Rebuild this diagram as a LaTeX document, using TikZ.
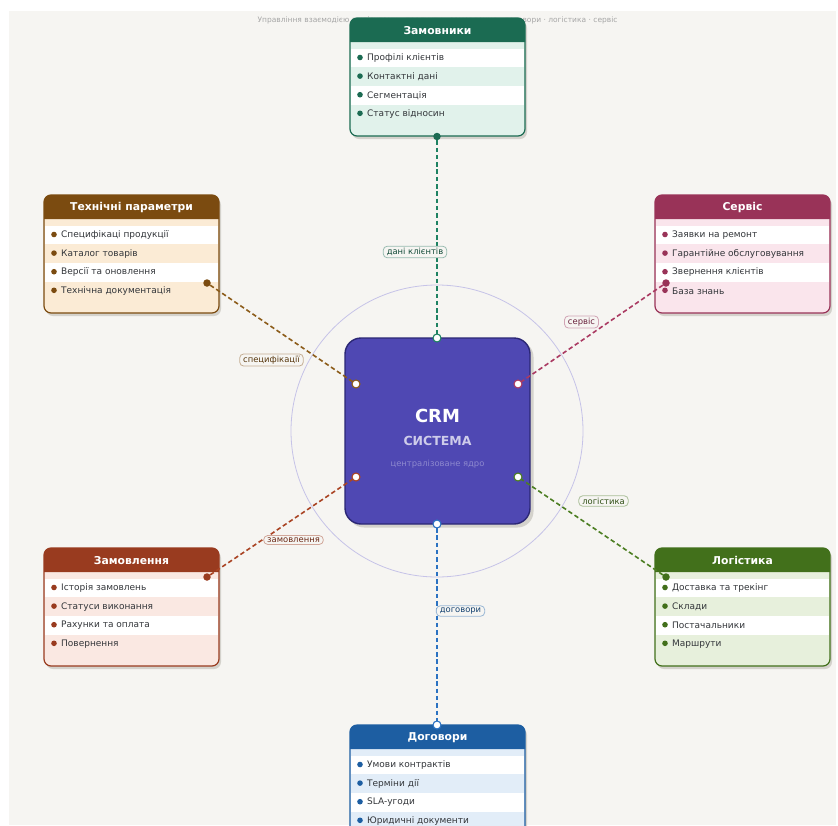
\documentclass[tikz,border=0pt]{standalone}
\usepackage{fontspec}
\setmainfont{DejaVu Sans}
\usetikzlibrary{calc}

% palette
\definecolor{pagebg}{HTML}{F6F5F2}
\definecolor{titlegray}{HTML}{A6A6A6}
\definecolor{itemgray}{HTML}{33363A}
\definecolor{panelshadow}{HTML}{D4D2CC}
\definecolor{zamC}{HTML}{1B6B52}\definecolor{zamT}{HTML}{E1F2EB}\definecolor{zamL}{HTML}{1E8262}
\definecolor{tehC}{HTML}{7B4B10}\definecolor{tehT}{HTML}{FBEBD5}\definecolor{tehL}{HTML}{8C5C1A}
\definecolor{serC}{HTML}{993358}\definecolor{serT}{HTML}{FAE5EC}\definecolor{serL}{HTML}{AA3A62}
\definecolor{ordC}{HTML}{993B1F}\definecolor{ordT}{HTML}{FAE8E2}\definecolor{ordL}{HTML}{AA4424}
\definecolor{logC}{HTML}{42701B}\definecolor{logT}{HTML}{E7F0DC}\definecolor{logL}{HTML}{4C7E22}
\definecolor{dogC}{HTML}{1D5EA2}\definecolor{dogT}{HTML}{E2EDF8}\definecolor{dogL}{HTML}{2B72C2}
\definecolor{coreC}{HTML}{4F48B3}\definecolor{coreD}{HTML}{2B2775}
\definecolor{ringC}{HTML}{C6C3E8}

\tikzset{
  itemtext/.style={font=\fontsize{9}{10.8}\selectfont, text=itemgray, inner sep=0pt, anchor=west},
  paneltitle/.style={font=\bfseries\fontsize{10.8}{12.5}\selectfont, text=white, inner sep=0pt},
  panelbody/.style={rectangle, rounded corners=7pt, minimum width=175pt, minimum height=118pt,
    inner sep=0pt, outer sep=0pt, anchor=north west},
  link/.style={line width=1.6pt, dash pattern=on 4.5pt off 2.8pt},
  linklabel/.style={rectangle, rounded corners=4pt, fill=pagebg, line width=0.8pt,
    font=\fontsize{8.4}{10}\selectfont, inner xsep=3.5pt, inner ysep=2pt},
  dotport/.style={circle, minimum size=7.5pt, inner sep=0pt, outer sep=0pt},
  openport/.style={circle, minimum size=8pt, inner sep=0pt, outer sep=0pt, fill=white, line width=1.1pt},
}

% panel: name, left, top, main colour, tint, title, items
\newcommand\crmpanel[7]{%
  \begin{scope}[shift={(#2,#3)}]
    \fill[panelshadow, rounded corners=7pt] (2,3) rectangle (177,121);
    \node[panelbody, fill=#5] (#1) at (0,0) {};
    \foreach \txt [count=\i] in {#7} {
      \pgfmathsetmacro\rowy{40+18.6*(\i-1)}
      \ifodd\i \fill[white] (1,\rowy-9.3) rectangle (174,\rowy+9.3);\fi
      \fill[#4] (10,\rowy-0.5) circle (2.8);
      \node[itemtext] (#1-\i) at (17,\rowy) {\txt};
    }
    \fill[#4] (0,24) [rounded corners=7pt] -- (0,0) -- (175,0) [sharp corners] -- (175,24) -- cycle;
    \node[paneltitle] (#1-title) at (87.5,12.5) {#6};
    \draw[#4, line width=1.2pt, rounded corners=7pt] (#1.north west) rectangle (#1.south east);
  \end{scope}
}

\begin{document}
\begin{tikzpicture}[x=1pt, y=-1pt]
\useasboundingbox (0,0) rectangle (838,825);
\fill[white] (0,0) rectangle (838,825);
\fill[pagebg] (9,11) rectangle (836,825);

% heading line
\node[font=\fontsize{7.5}{9}\selectfont, text=titlegray, inner sep=0pt] (heading) at (437.5,20)
  {Управління взаємодією з клієнтами · продукти · замовлення · договори · логістика · сервіс};

% ring around the core
\draw[ringC, line width=0.8pt] (437,431) circle (146);

% core block
\fill[panelshadow, rounded corners=16pt] (348,341) rectangle (533.5,527.5);
\node[rectangle, rounded corners=16pt, minimum width=185pt, minimum height=186pt, inner sep=0pt,
  fill=coreC, draw=coreD, line width=1.4pt] (crm) at (437.5,431) {};
\node[font=\bfseries\fontsize{18}{20}\selectfont, text=white] (crm-name) at (437.5,416) {CRM};
\node[font=\bfseries\fontsize{12.5}{14}\selectfont, text=white!72!coreC] (crm-sub) at (437.5,441) {СИСТЕМА};
\node[font=\fontsize{8.4}{10}\selectfont, text=white!35!coreC] (crm-note) at (437.5,464) {централізоване ядро};

% surrounding panels
\crmpanel{zam}{350}{18}{zamC}{zamT}{Замовники}{Профілі клієнтів,Контактні дані,Сегментація,Статус відносин}
\crmpanel{teh}{44}{195}{tehC}{tehT}{Технічні параметри}{Специфікаці продукції,Каталог товарів,Версії та оновлення,Технічна документація}
\crmpanel{ser}{655}{195}{serC}{serT}{Сервіс}{Заявки на ремонт,Гарантійне обслуговування,Звернення клієнтів,База знань}
\crmpanel{ord}{44}{548}{ordC}{ordT}{Замовлення}{Історія замовлень,Статуси виконання,Рахунки та оплата,Повернення}
\crmpanel{log}{655}{548}{logC}{logT}{Логістика}{Доставка та трекінг,Склади,Постачальники,Маршрути}
\crmpanel{dog}{350}{725}{dogC}{dogT}{Договори}{Умови контрактів,Терміни дії,SLA-угоди,Юридичні документи}

% ports on the panels
\node[dotport, fill=zamC] (zam-p) at (437,136.5) {};
\node[dotport, fill=tehC] (teh-p) at (207,283) {};
\node[dotport, fill=serC] (ser-p) at (666,283) {};
\node[dotport, fill=ordC] (ord-p) at (207,577) {};
\node[dotport, fill=logC] (log-p) at (666,577) {};
\node[openport, draw=dogL] (dog-p) at (437,725) {};

% ports on the core
\node[openport, draw=zamL] (crm-n)  at (437,338) {};
\node[openport, draw=dogL] (crm-s)  at (437,524) {};
\node[openport, draw=tehL] (crm-nw) at (356,384) {};
\node[openport, draw=serL] (crm-ne) at (518,384) {};
\node[openport, draw=ordL] (crm-sw) at (356,477) {};
\node[openport, draw=logL] (crm-se) at (518,477) {};

% connectors
\draw[link, zamL] (zam-p) -- (crm-n);
\draw[link, tehL] (teh-p) -- (crm-nw);
\draw[link, serL] (ser-p) -- (crm-ne);
\draw[link, ordL] (ord-p) -- (crm-sw);
\draw[link, logL] (log-p) -- (crm-se);
\draw[link, dogL] (crm-s) -- (dog-p);

% connector labels
\node[linklabel, draw=zamC!45, text=zamC!70!black] (lbl-zam) at (415,252) {дані клієнтів};
\node[linklabel, draw=tehC!45, text=tehC!70!black] (lbl-teh) at (271.5,360) {специфікації};
\node[linklabel, draw=serC!45, text=serC!70!black] (lbl-ser) at (581.5,322) {сервіс};
\node[linklabel, draw=ordC!45, text=ordC!70!black] (lbl-ord) at (293.5,540) {замовлення};
\node[linklabel, draw=logC!45, text=logC!70!black] (lbl-log) at (603.5,501) {логістика};
\node[linklabel, draw=dogC!45, text=dogC!70!black] (lbl-dog) at (460.5,611) {договори};
\end{tikzpicture}
\end{document}
